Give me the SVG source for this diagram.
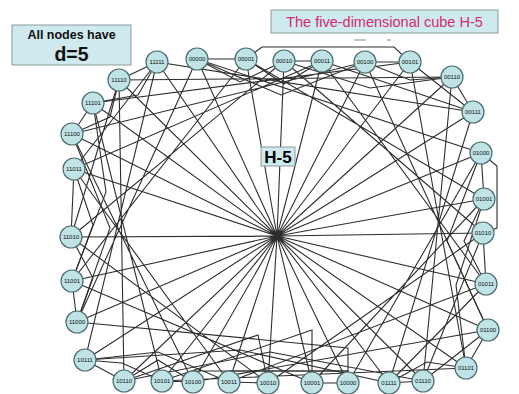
<svg xmlns="http://www.w3.org/2000/svg" width="519" height="394" viewBox="0 0 519 394">
<style>
.e{fill:none;stroke:#2e2e2e;stroke-width:1.1;stroke-linejoin:miter}
.n circle{fill:#bfe3e6;stroke:#4d6d70;stroke-width:1.2}
.n text{font-family:"Liberation Sans",Arial,sans-serif;font-size:6px;fill:#111;text-anchor:middle}
.box{fill:#cfeaee;stroke:#8a9a9c;stroke-width:1}
</style>
<rect width="519" height="394" fill="#ffffff"/>
<g id="connectors">
<path class="e" d="M197 59L246 59M284 61L322 61M365 62L410 62M452 77L473 112M481 153L484 199M483 233L486 284M488 330L466 368M423 381L389 383M348 383L312 383M268 383L229 382M193 382L162 381M124 381L85 360M77 322L72 281M71 237L74 169M72 134L93 103M119 80L157 62"/>
<path class="e" d="M197 59L240 82L284 61M246 59L284 84L322 61M365 62L410 80L452 77M410 62L473 112M481 153L497 166L497 228L483 233M484 199L464 241L486 284M488 330L423 381M466 368L427 362L389 383M348 383L348 371L268 371L268 383M312 383L312 371L229 371L229 382M193 382L158 360L124 381M162 381L122 363L85 360M77 322L93 278L71 237M72 281L93 225L74 169M72 134L110 117L119 80M93 103L138 95L157 62"/>
<path class="e" d="M197 59L281 95L365 62M246 59L262 47L394 47L410 62M284 61L370 88L452 77M322 61L473 112M481 153L447 241L488 330M484 199L456 285L466 368M483 233L423 381M486 284L389 383M348 383L348 371L193 371L193 382M312 383L312 330L162 381M268 383L258 335L124 381M229 382L158 352L85 360M77 322L110 228L72 134M72 281L106 192L93 103M71 237L119 80M74 169L157 62"/>
<path class="e" d="M197 59L481 153M246 59L484 199M284 61L483 233M322 61L486 284M365 62L488 330M410 62L466 368M452 77L423 381M473 112L389 383M481 153L348 383M484 199L312 383M483 233L268 383M486 284L229 382M488 330L193 382M466 368L162 381M423 381L270 352L124 381M389 383L240 350L85 360M348 383L348 348L77 322M312 383L72 281M268 383L71 237M229 382L74 169M193 382L72 134M162 381L93 103M124 381L119 80M85 360L157 62M77 322L197 59M72 281L246 59M71 237L284 61M74 169L322 61M72 134L365 62M93 103L410 62M119 80L452 77M157 62L473 112"/>
<path class="e" d="M197 59L277 236L348 383M246 59L277 236L312 383M284 61L277 236L268 383M322 61L277 236L229 382M365 62L277 236L193 382M410 62L277 236L162 381M452 77L277 236L124 381M473 112L277 236L85 360M481 153L277 236L77 322M484 199L277 236L72 281M483 233L277 236L71 237M486 284L277 236L74 169M488 330L277 236L72 134M466 368L277 236L93 103M423 381L277 236L119 80M389 383L277 236L157 62"/>
</g>
<g id="n00000" class="n"><circle cx="197" cy="59" r="11"/><text x="197" y="61">00000</text></g>
<g id="n00001" class="n"><circle cx="246" cy="59" r="11"/><text x="246" y="61">00001</text></g>
<g id="n00010" class="n"><circle cx="284" cy="61" r="11"/><text x="284" y="63">00010</text></g>
<g id="n00011" class="n"><circle cx="322" cy="61" r="11"/><text x="322" y="63">00011</text></g>
<g id="n00100" class="n"><circle cx="365" cy="62" r="11"/><text x="365" y="64">00100</text></g>
<g id="n00101" class="n"><circle cx="410" cy="62" r="11"/><text x="410" y="64">00101</text></g>
<g id="n00110" class="n"><circle cx="452" cy="77" r="11"/><text x="452" y="79">00110</text></g>
<g id="n00111" class="n"><circle cx="473" cy="112" r="11"/><text x="473" y="114">00111</text></g>
<g id="n01000" class="n"><circle cx="481" cy="153" r="11"/><text x="481" y="155">01000</text></g>
<g id="n01001" class="n"><circle cx="484" cy="199" r="11"/><text x="484" y="201">01001</text></g>
<g id="n01010" class="n"><circle cx="483" cy="233" r="11"/><text x="483" y="235">01010</text></g>
<g id="n01011" class="n"><circle cx="486" cy="284" r="11"/><text x="486" y="286">01011</text></g>
<g id="n01100" class="n"><circle cx="488" cy="330" r="11"/><text x="488" y="332">01100</text></g>
<g id="n01101" class="n"><circle cx="466" cy="368" r="11"/><text x="466" y="370">01101</text></g>
<g id="n01110" class="n"><circle cx="423" cy="381" r="11"/><text x="423" y="383">01110</text></g>
<g id="n01111" class="n"><circle cx="389" cy="383" r="11"/><text x="389" y="385">01111</text></g>
<g id="n10000" class="n"><circle cx="348" cy="383" r="11"/><text x="348" y="385">10000</text></g>
<g id="n10001" class="n"><circle cx="312" cy="383" r="11"/><text x="312" y="385">10001</text></g>
<g id="n10010" class="n"><circle cx="268" cy="383" r="11"/><text x="268" y="385">10010</text></g>
<g id="n10011" class="n"><circle cx="229" cy="382" r="11"/><text x="229" y="384">10011</text></g>
<g id="n10100" class="n"><circle cx="193" cy="382" r="11"/><text x="193" y="384">10100</text></g>
<g id="n10101" class="n"><circle cx="162" cy="381" r="11"/><text x="162" y="383">10101</text></g>
<g id="n10110" class="n"><circle cx="124" cy="381" r="11"/><text x="124" y="383">10110</text></g>
<g id="n10111" class="n"><circle cx="85" cy="360" r="11"/><text x="85" y="362">10111</text></g>
<g id="n11000" class="n"><circle cx="77" cy="322" r="11"/><text x="77" y="324">11000</text></g>
<g id="n11001" class="n"><circle cx="72" cy="281" r="11"/><text x="72" y="283">11001</text></g>
<g id="n11010" class="n"><circle cx="71" cy="237" r="11"/><text x="71" y="239">11010</text></g>
<g id="n11011" class="n"><circle cx="74" cy="169" r="11"/><text x="74" y="171">11011</text></g>
<g id="n11100" class="n"><circle cx="72" cy="134" r="11"/><text x="72" y="136">11100</text></g>
<g id="n11101" class="n"><circle cx="93" cy="103" r="11"/><text x="93" y="105">11101</text></g>
<g id="n11110" class="n"><circle cx="119" cy="80" r="11"/><text x="119" y="82">11110</text></g>
<g id="n11111" class="n"><circle cx="157" cy="62" r="11"/><text x="157" y="64">11111</text></g>
<g id="label-h5"><rect class="box" x="261" y="147" width="34" height="19" stroke="#333"/><text x="278" y="163" font-family="Liberation Sans,Arial,sans-serif" font-size="17" font-weight="bold" text-anchor="middle" fill="#000">H-5</text></g>
<g id="note"><rect class="box" x="12" y="25" width="119" height="40"/><text x="71.5" y="39" font-family="Liberation Sans,Arial,sans-serif" font-size="12.5" font-weight="bold" text-anchor="middle" fill="#111">All nodes have</text><text x="71.5" y="61" font-family="Liberation Sans,Arial,sans-serif" font-size="19.5" font-weight="bold" text-anchor="middle" fill="#111">d=5</text></g>
<g id="title"><rect class="box" x="271" y="10" width="227" height="23"/><text x="384.5" y="27" font-family="Liberation Sans,Arial,sans-serif" font-size="14.5" text-anchor="middle" fill="#d42a6e">The five-dimensional cube H-5</text><path d="M354 40H366M387 40H391" stroke="#888" stroke-width="1.2"/></g>
</svg>
